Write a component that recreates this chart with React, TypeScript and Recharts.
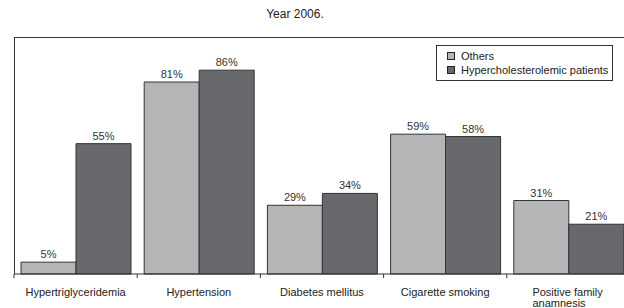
import React from "react";
import { BarChart, Bar, XAxis, YAxis, LabelList } from "recharts";

const categories = [
  "Hypertriglyceridemia",
  "Hypertension",
  "Diabetes mellitus",
  "Cigarette smoking",
  "Positive family anamnesis",
];
const others = [5, 81, 29, 59, 31];
const patients = [55, 86, 34, 58, 21];
const seriesNames = ["Others", "Hypercholesterolemic patients"];
const colors = ["#b4b5b7", "#68696d"];
const title = "Year 2006.";

const data = categories.map((c, i) => ({ name: c, others: others[i], patients: patients[i] }));

const FONT = "'Liberation Sans', Arial, sans-serif";
const PLOT_LEFT = 14;
const PLOT_TOP = 37;
const PLOT_WIDTH = 616;
const PLOT_HEIGHT = 237;
const BAND = PLOT_WIDTH / categories.length;

const CategoryTick = (props: any) => {
  const { x, y, payload, index } = props;
  const label: string = payload.value;
  const lines = label === "Positive family anamnesis" ? ["Positive family", "anamnesis"] : [label];
  const left = x - BAND / 2;
  return (
    <g>
      <line x1={left} y1={y - 8} x2={left} y2={y - 4} stroke="#333" strokeWidth={1} />
      {index === categories.length - 1 && (
        <line x1={left + BAND} y1={y - 8} x2={left + BAND} y2={y - 4} stroke="#333" strokeWidth={1} />
      )}
      {lines.length === 1 ? (
        <text x={x} y={y + 14} textAnchor="middle" fontSize={11} fill="#222" fontFamily={FONT}>
          {label}
        </text>
      ) : (
        <text x={x - 36} y={y + 14} textAnchor="start" fontSize={11} fill="#222" fontFamily={FONT}>
          {lines.map((l, i) => (
            <tspan key={i} x={x - 36} dy={i === 0 ? 0 : 11}>
              {l}
            </tspan>
          ))}
        </text>
      )}
    </g>
  );
};

const LegendBox = () => (
  <div
    style={{
      position: "absolute",
      left: 436,
      top: 45,
      width: 177,
      height: 36,
      boxSizing: "border-box",
      border: "1px solid #333",
      background: "#fff",
      padding: "3px 0 0 10px",
      fontFamily: FONT,
      fontSize: 11,
      color: "#222",
      lineHeight: "14px",
      whiteSpace: "nowrap",
    }}
  >
    {seriesNames.map((n, i) => (
      <div key={n} style={{ display: "flex", alignItems: "center" }}>
        <span
          style={{
            display: "inline-block",
            width: 6,
            height: 6,
            background: colors[i],
            border: "1px solid #222",
            marginRight: 6,
          }}
        />
        {n}
      </div>
    ))}
  </div>
);

export default function App() {
  return (
    <div style={{ position: "absolute", left: 0, top: 0, width: 624, height: 308, overflow: "hidden", background: "#fff" }}>
      <div
        style={{
          position: "absolute",
          left: 0,
          top: 7,
          width: 590,
          textAlign: "center",
          fontFamily: FONT,
          fontSize: 12,
          color: "#222",
        }}
      >
        {title}
      </div>
      <div style={{ position: "absolute", left: 0, top: 0 }}>
        <BarChart
          width={PLOT_LEFT + PLOT_WIDTH + 10}
          height={308}
          data={data}
          margin={{ top: PLOT_TOP, right: 10, bottom: 308 - PLOT_TOP - PLOT_HEIGHT - 30, left: PLOT_LEFT }}
          barCategoryGap={7}
          barGap={0}
        >
          <XAxis
            dataKey="name"
            interval={0}
            height={30}
            axisLine={{ stroke: "#333", strokeWidth: 1 }}
            tickLine={false}
            tick={<CategoryTick />}
          />
          <YAxis domain={[0, 100]} hide />
          <Bar dataKey="others" name={seriesNames[0]} fill={colors[0]} stroke="#333" strokeWidth={1} isAnimationActive={false}>
            <LabelList dataKey="others" position="top" offset={4} formatter={(v: any) => `${v}%`} style={{ fontSize: 11, fill: "#333", fontFamily: FONT }} />
          </Bar>
          <Bar dataKey="patients" name={seriesNames[1]} fill={colors[1]} stroke="#333" strokeWidth={1} isAnimationActive={false}>
            <LabelList dataKey="patients" position="top" offset={4} formatter={(v: any) => `${v}%`} style={{ fontSize: 11, fill: "#333", fontFamily: FONT }} />
          </Bar>
        </BarChart>
      </div>
      <div
        style={{
          position: "absolute",
          left: PLOT_LEFT,
          top: PLOT_TOP,
          width: PLOT_WIDTH,
          height: PLOT_HEIGHT,
          borderTop: "1px solid #333",
          borderLeft: "1px solid #333",
          borderRight: "1px solid #333",
          boxSizing: "border-box",
          pointerEvents: "none",
        }}
      />
      <LegendBox />
    </div>
  );
}
